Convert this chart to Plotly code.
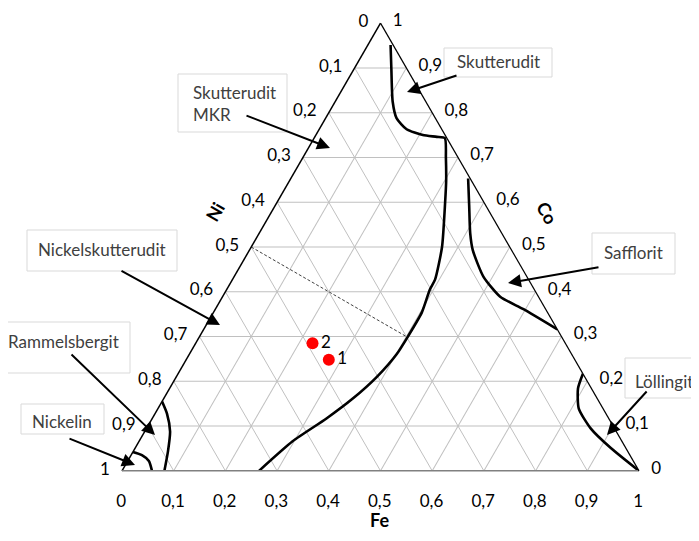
import plotly.graph_objects as go

# ---------------- data ----------------
tick_vals = [0.0, 0.1, 0.2, 0.3, 0.4, 0.5, 0.6, 0.7, 0.8, 0.9, 1.0]
tick_labels = ["1", "0,9", "0,8", "0,7", "0,6", "0,5", "0,4", "0,3", "0,2", "0,1", "0"]

# Skutterudit / Nickelskutterudit boundary (Co, Ni, Fe)
main_co = [0.951, 0.898, 0.825, 0.788, 0.763, 0.750, 0.746, 0.743, 0.699, 0.648, 0.600, 0.500,
           0.427, 0.405, 0.354, 0.301, 0.261, 0.210, 0.162, 0.117, 0.066, 0.000]
main_ni = [0.005, 0.030, 0.064, 0.075, 0.068, 0.043, 0.018, 0.004, 0.024, 0.049, 0.075, 0.131,
           0.181, 0.202, 0.243, 0.296, 0.338, 0.402, 0.472, 0.546, 0.637, 0.735]
main_fe = [0.044, 0.072, 0.111, 0.137, 0.169, 0.207, 0.236, 0.253, 0.277, 0.303, 0.325, 0.369,
           0.392, 0.393, 0.403, 0.403, 0.401, 0.388, 0.366, 0.337, 0.297, 0.265]

# Safflorit boundary
saff_co = [0.653, 0.593, 0.531, 0.493, 0.434, 0.389, 0.361, 0.316]
saff_ni = [0.004, 0.032, 0.061, 0.075, 0.084, 0.074, 0.043, 0.000]
saff_fe = [0.343, 0.375, 0.408, 0.432, 0.482, 0.537, 0.596, 0.684]

# Löllingit boundary
loll_co = [0.217, 0.184, 0.139, 0.095, 0.051, 0.000]
loll_ni = [0.000, 0.026, 0.047, 0.046, 0.029, 0.000]
loll_fe = [0.783, 0.790, 0.814, 0.859, 0.920, 1.000]

# Nickelin boundary
nick_co = [0.042, 0.035, 0.022, 0.000]
nick_ni = [0.958, 0.944, 0.937, 0.942]
nick_fe = [0.000, 0.021, 0.041, 0.058]

# Rammelsbergit boundary
ramm_co = [0.155, 0.128, 0.088, 0.044, 0.000]
ramm_ni = [0.845, 0.849, 0.863, 0.889, 0.918]
ramm_fe = [0.000, 0.023, 0.049, 0.067, 0.082]

# Dashed Co:Ni = 1:1 line
dash_co = [0.5, 0.3]
dash_ni = [0.5, 0.3]
dash_fe = [0.0, 0.4]

# Samples
sample_names = ["1", "2"]
sample_co = [0.248, 0.285]
sample_ni = [0.476, 0.489]
sample_fe = [0.276, 0.226]

# Mineral field labels
field_names = ["Skutterudit", "Skutterudit<br>MKR", "Nickelskutterudit", "Rammelsbergit",
               "Nickelin", "Safflorit", "Löllingit"]

# ---------------- figure ----------------
OFF = 8                      # page body margin of the html page
W, H = 699 - OFF, 541 - OFF
FONT = "Lato, 'Open Sans', sans-serif"
NB = "\u00a0"


def px(xp):
    return (xp - OFF) / W


def py(yp):
    return 1 - (yp - OFF) / H


fig = go.Figure()

curve_style = dict(color="black", width=2.6)
for co, ni, fe in [(main_co, main_ni, main_fe), (saff_co, saff_ni, saff_fe),
                   (loll_co, loll_ni, loll_fe), (nick_co, nick_ni, nick_fe),
                   (ramm_co, ramm_ni, ramm_fe)]:
    fig.add_trace(go.Scatterternary(a=co, b=ni, c=fe, mode="lines",
                                    line=dict(curve_style, shape="spline", smoothing=0.6),
                                    hoverinfo="skip"))

fig.add_trace(go.Scatterternary(a=dash_co, b=dash_ni, c=dash_fe, mode="lines",
                                line=dict(color="#404040", width=1, dash="3px,2px"),
                                hoverinfo="skip"))

fig.add_trace(go.Scatterternary(a=sample_co, b=sample_ni, c=sample_fe, mode="markers+text",
                                text=sample_names, textposition="middle right",
                                textfont=dict(family=FONT, size=17, color="black"),
                                marker=dict(color="#ff0000", size=12)))


def axis(linecolor, linewidth, gap, texts):
    return dict(
        tickmode="array", tickvals=tick_vals, ticktext=texts,
        tickfont=dict(family=FONT, size=17, color="black"),
        ticks="outside", ticklen=gap, tickcolor="rgba(0,0,0,0)", tickwidth=1,
        showline=True, linecolor=linecolor, linewidth=linewidth,
        showgrid=True, gridcolor="#c0c0c0", gridwidth=1.3,
        title=dict(text=""), min=0,
    )


x0, x1 = 122, 639
ytop, ybot = 21, 473
fig.update_layout(
    width=W, height=H,
    margin=dict(l=0, r=0, t=0, b=0),
    paper_bgcolor="white",
    showlegend=False,
    font=dict(family=FONT, color="black"),
    ternary=dict(
        sum=1,
        bgcolor="white",
        domain=dict(x=[px(x0), px(x1)], y=[py(ybot), py(ytop)]),
        aaxis=axis("black", 1.5, 9, tick_labels),
        baxis=axis("#808080", 1.5, 16, [t + NB * 4 for t in tick_labels]),
        caxis=axis("black", 1.2, 1, [NB * 2 + t for t in tick_labels]),
    ),
)

# axis names
for txt, xx, yy, ang in [("Ni", 198, 212, -60), ("Co", 565, 213, 60), ("Fe", 380, 533, 0)]:
    fig.add_annotation(text="<b>%s</b>" % txt, x=px(xx), y=py(yy), xref="paper", yref="paper",
                       showarrow=False, textangle=ang, font=dict(family=FONT, size=18, color="black"))

# (box x0, y0, x1, y1, text x, text y, text anchor, arrow tail x, y, arrow head x, y)
boxes = [(444, 48, 552, 77, 498, 62, "center", 458, 75, 407, 92),
         (178, 74, 287, 132, 191, 104, "left", 245, 115, 330, 148),
         (27, 230, 177, 271, 102, 250, "center", 120, 270, 220, 325),
         (-2, 322, 130, 373, 63, 341, "center", 70, 353, 155, 435),
         (21, 404, 104, 434, 62, 421, "center", 68, 438, 135, 465),
         (592, 233, 675, 274, 633, 252, "center", 600, 267, 508, 283),
         (625, 358, 705, 398, 664, 381, "center", 648, 390, 607, 435)]

for name, (bx0, by0, bx1, by1, tx, ty, anc, ax_, ay_, hx, hy) in zip(field_names, boxes):
    fig.add_shape(type="rect", xref="paper", yref="paper",
                  x0=px(bx0), x1=px(bx1), y0=py(by1), y1=py(by0),
                  fillcolor="white", line=dict(color="#d9d9d9", width=1), layer="above")
    fig.add_annotation(text=name, x=px(tx), y=py(ty), xref="paper", yref="paper",
                       xanchor=anc, yanchor="middle", showarrow=False, align="left",
                       font=dict(family=FONT, size=17, color="#404040"))
    fig.add_annotation(text="", x=px(hx), y=py(hy), xref="paper", yref="paper",
                       ax=ax_ - hx, ay=ay_ - hy, showarrow=True, arrowhead=2, arrowsize=1.3,
                       arrowwidth=2, arrowcolor="black", standoff=0, startstandoff=0)

fig.write_html("out.html")
